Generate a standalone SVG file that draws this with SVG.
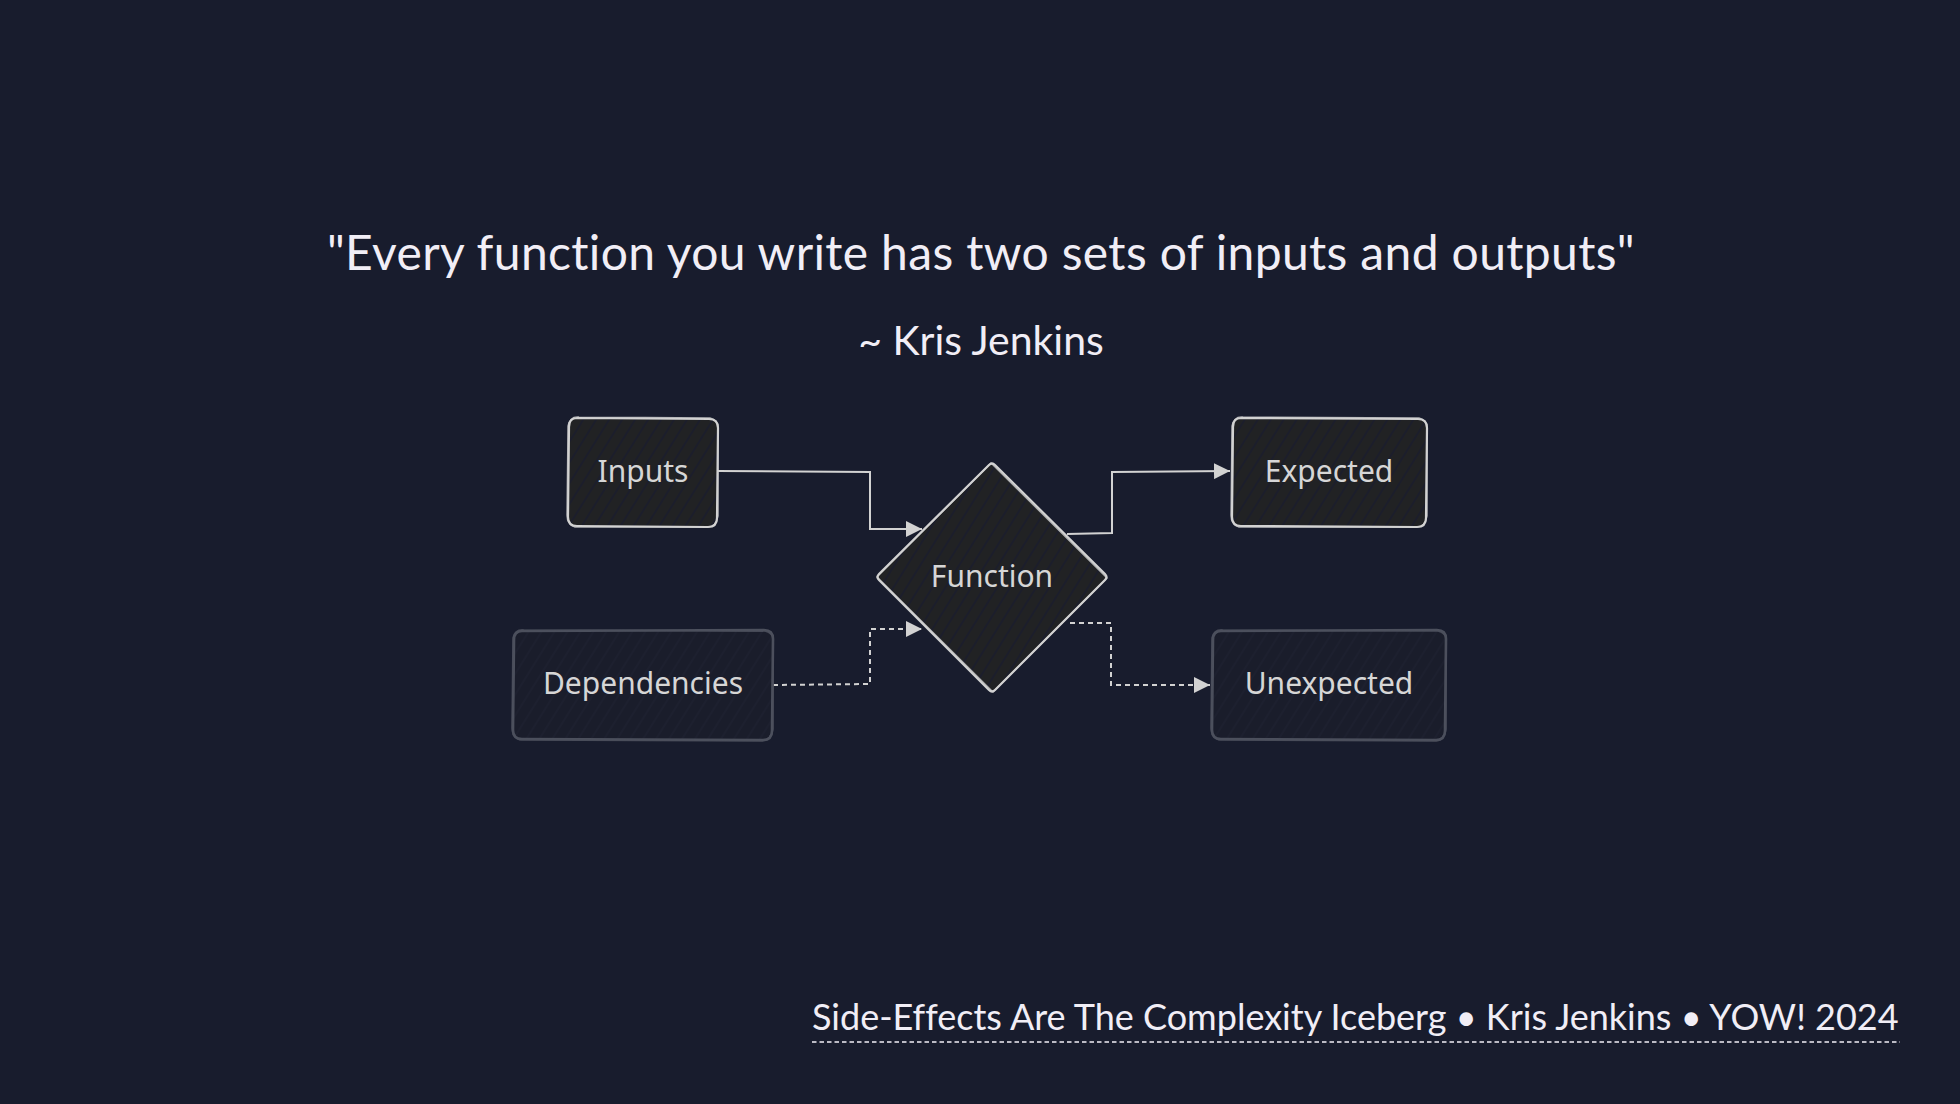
<svg xmlns="http://www.w3.org/2000/svg" width="1960" height="1104" viewBox="0 0 1960 1104">
<defs>
<style>
.title{font-family:Lato,"Noto Sans",sans-serif;fill:#f1eef6;text-anchor:middle;font-variant-ligatures:none}
.foot{font-family:Lato,"Noto Sans",sans-serif;fill:#f1eef6;font-size:36px;font-variant-ligatures:none}
.lbl{font-family:"Noto Sans","DejaVu Sans",sans-serif;font-size:30px;fill:#d6d6d6;text-anchor:middle}
.solid{fill:url(#hatchA);stroke:#d2d2d2;stroke-width:2.2;stroke-linejoin:round}
.solid2{fill:none;stroke:#d2d2d2;stroke-width:1.4;stroke-linejoin:round;opacity:0.8}
.faint{fill:url(#hatchB);stroke:#4c505d;stroke-width:2.6;stroke-linejoin:round}
.faint2{fill:none;stroke:#4c505d;stroke-width:1.6;stroke-linejoin:round;opacity:0.85}
.conn{fill:none;stroke:#d2d2d2;stroke-width:2;stroke-linejoin:miter}
.dash{stroke-dasharray:5 4}
</style>
<pattern id="hatchA" width="11" height="11" patternUnits="userSpaceOnUse" patternTransform="rotate(32)">
<rect width="11" height="11" fill="#212224"/>
<line x1="2" y1="0" x2="2" y2="11" stroke="#1a1d2c" stroke-width="1.6"/>
</pattern>
<pattern id="hatchB" width="11" height="11" patternUnits="userSpaceOnUse" patternTransform="rotate(32)">
<rect width="11" height="11" fill="#1a1d2b"/>
<line x1="2" y1="0" x2="2" y2="11" stroke="#1e2130" stroke-width="1.4"/>
</pattern>
<marker id="arr" markerWidth="18" markerHeight="16" refX="16" refY="8" orient="auto" markerUnits="userSpaceOnUse">
<path d="M0,0 L16,8 L0,16 Z" fill="#d2d2d2"/>
</marker>
</defs>
<rect width="1960" height="1104" fill="#181c2d"/>

<text class="title" x="981" y="270" font-size="48" letter-spacing="0.35">"Every function you write has two sets of inputs and outputs"</text>
<text class="title" x="981" y="355" font-size="41">~ Kris Jenkins</text>

<g id="connectors">
<path class="conn" d="M718,471 L870,472 L870,529 L922,529" marker-end="url(#arr)"/>
<path class="conn dash" d="M773,685 L870,684 L870,629 L922,629" marker-end="url(#arr)"/>
<path class="conn" d="M1067,534 L1112,533 L1112,472 L1230,471" marker-end="url(#arr)"/>
<path class="conn dash" d="M1070,623 L1111,623 L1111,685 L1210,685" marker-end="url(#arr)"/>
</g>

<g id="node-inputs">
<path class="solid" d="M577,418 L709,419 Q718,419 718,428 L717,518 Q717,527 708,527 L577,526 Q568,526 568,517 L569,427 Q569,418 577,418 Z"/>
<path class="solid2" d="M579,417 L710,418 Q719,420 718,430 L718,516 Q716,528 706,527 L575,527 Q567,525 567,515 L568,426 Q570,416 579,417 Z"/>
<text class="lbl" x="643" y="482">Inputs</text>
</g>

<g id="node-dependencies">
<path class="faint" d="M522,631 L764,630 Q773,630 773,639 L772,731 Q772,740 763,740 L522,739 Q513,739 513,730 L514,640 Q514,631 522,631 Z"/>
<path class="faint2" d="M524,630 L765,631 Q774,633 773,642 L773,729 Q771,741 761,741 L520,740 Q512,737 512,728 L513,638 Q515,629 524,630 Z"/>
<text class="lbl" x="643" y="694">Dependencies</text>
</g>

<g id="node-function">
<path class="solid" d="M989,465 Q992,462 995,465 L1105,574 Q1108,577 1105,580 L995,690 Q992,693 989,690 L879,580 Q876,577 879,574 Z"/>
<path class="solid2" d="M991,463 L1107,578 L993,692 L877,577 Z"/>
<text class="lbl" x="992" y="587">Function</text>
</g>

<g id="node-expected">
<path class="solid" d="M1241,418 L1418,419 Q1427,419 1427,428 L1426,518 Q1426,527 1417,527 L1241,526 Q1232,526 1232,517 L1233,427 Q1233,418 1241,418 Z"/>
<path class="solid2" d="M1243,417 L1419,418 Q1428,420 1427,430 L1427,516 Q1425,528 1415,527 L1239,527 Q1231,525 1231,515 L1232,426 Q1234,416 1243,417 Z"/>
<text class="lbl" x="1329" y="482">Expected</text>
</g>

<g id="node-unexpected">
<path class="faint" d="M1221,631 L1437,630 Q1446,630 1446,639 L1445,731 Q1445,740 1436,740 L1221,739 Q1212,739 1212,730 L1213,640 Q1213,631 1221,631 Z"/>
<path class="faint2" d="M1223,630 L1438,631 Q1447,633 1446,642 L1446,729 Q1444,741 1434,741 L1219,740 Q1211,737 1211,728 L1212,638 Q1214,629 1223,630 Z"/>
<text class="lbl" x="1329" y="694">Unexpected</text>
</g>

<text class="foot" x="812" y="1030">Side-Effects Are The Complexity Iceberg • Kris Jenkins • YOW! 2024</text>
<line x1="812" y1="1042" x2="1900" y2="1042" stroke="#f1eef6" stroke-width="1.6" stroke-dasharray="4.5 3"/>
</svg>
